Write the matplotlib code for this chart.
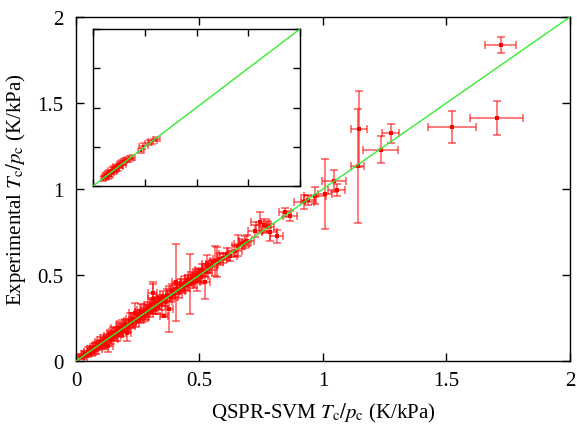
import matplotlib

matplotlib.use("Agg")
import matplotlib.pyplot as plt

plt.rcParams["font.family"] = ["Liberation Serif", "DejaVu Serif"]
plt.rcParams["mathtext.fontset"] = "stix"

# predicted (QSPR-SVM) vs experimental Tc/pc, with uncertainties
pred = [
    0.020, 0.028, 0.035, 0.042, 0.050, 0.055, 0.062, 0.068, 0.075, 0.080,
    0.088, 0.092, 0.100, 0.105, 0.112, 0.118, 0.125, 0.130, 0.138, 0.142,
    0.150, 0.155, 0.162, 0.168, 0.175, 0.180, 0.188, 0.192, 0.200, 0.205,
    0.212, 0.218, 0.225, 0.232, 0.238, 0.245, 0.252, 0.258, 0.265, 0.270,
    0.278, 0.285, 0.292, 0.298,
    0.305, 0.310, 0.313, 0.318, 0.325, 0.332, 0.340, 0.345, 0.352, 0.356,
    0.362, 0.370, 0.378, 0.383, 0.390, 0.398, 0.405, 0.410, 0.418, 0.425,
    0.432, 0.440, 0.448, 0.455, 0.462, 0.470, 0.478, 0.485, 0.491, 0.498,
    0.505, 0.512, 0.522, 0.525, 0.529, 0.540, 0.550, 0.563, 0.570, 0.583,
    0.595,
    0.610, 0.625, 0.644, 0.657, 0.671, 0.684, 0.691, 0.725, 0.745, 0.760,
    0.772, 0.785, 0.812, 0.846, 0.866, 0.923, 0.940,
    0.968, 1.008, 1.046, 1.056, 1.140, 1.146, 1.234, 1.274, 1.522, 1.703,
    1.719,
]
expt = [
    0.022, 0.025, 0.040, 0.038, 0.055, 0.048, 0.068, 0.060, 0.082, 0.072,
    0.095, 0.085, 0.108, 0.098, 0.120, 0.105, 0.135, 0.090, 0.145, 0.130,
    0.165, 0.148, 0.170, 0.155, 0.190, 0.172, 0.200, 0.180, 0.215, 0.160,
    0.205, 0.235, 0.220, 0.245, 0.280, 0.238, 0.262, 0.250, 0.285, 0.262,
    0.295, 0.278, 0.310, 0.290,
    0.325, 0.395, 0.360, 0.305, 0.340, 0.320, 0.355, 0.335, 0.372, 0.264,
    0.350, 0.385, 0.302, 0.375, 0.405, 0.392, 0.457, 0.420, 0.405, 0.440,
    0.428, 0.452, 0.440, 0.470, 0.449, 0.480, 0.465, 0.500, 0.467, 0.510,
    0.495, 0.530, 0.462, 0.520, 0.564, 0.545, 0.560, 0.583, 0.574, 0.593,
    0.600,
    0.622, 0.612, 0.641, 0.671, 0.680, 0.690, 0.700, 0.757, 0.806, 0.790,
    0.777, 0.748, 0.724, 0.864, 0.845, 0.926, 0.935,
    0.961, 0.971, 1.048, 0.996, 1.135, 1.349, 1.229, 1.324, 1.359, 1.413,
    1.839,
]
pred_err = [
    0.012, 0.015, 0.014, 0.018, 0.016, 0.022, 0.018, 0.020, 0.018, 0.024,
    0.020, 0.028, 0.024, 0.020, 0.026, 0.022, 0.028, 0.018, 0.024, 0.028,
    0.024, 0.026, 0.028, 0.022, 0.032, 0.024, 0.028, 0.026, 0.032, 0.018,
    0.028, 0.024, 0.032, 0.028, 0.022, 0.032, 0.028, 0.032, 0.028, 0.024,
    0.032, 0.028, 0.032, 0.028,
    0.030, 0.020, 0.020, 0.030, 0.025, 0.030, 0.030, 0.025, 0.030, 0.015,
    0.025, 0.030, 0.015, 0.030, 0.025, 0.030, 0.015, 0.030, 0.025, 0.030,
    0.025, 0.030, 0.025, 0.030, 0.020, 0.030, 0.025, 0.030, 0.020, 0.025,
    0.030, 0.030, 0.020, 0.025, 0.020, 0.030, 0.025, 0.020, 0.025, 0.030,
    0.025,
    0.030, 0.025, 0.030, 0.025, 0.030, 0.025, 0.030, 0.030, 0.035, 0.030,
    0.030, 0.030, 0.027, 0.025, 0.028, 0.040, 0.030,
    0.044, 0.027, 0.049, 0.034, 0.028, 0.034, 0.071, 0.033, 0.096, 0.109,
    0.063,
]
expt_err = [
    0.012, 0.015, 0.018, 0.016, 0.024, 0.018, 0.022, 0.026, 0.024, 0.030,
    0.024, 0.022, 0.034, 0.024, 0.030, 0.034, 0.024, 0.038, 0.030, 0.034,
    0.034, 0.030, 0.024, 0.040, 0.034, 0.030, 0.040, 0.034, 0.030, 0.045,
    0.034, 0.045, 0.030, 0.034, 0.055, 0.040, 0.034, 0.030, 0.045, 0.034,
    0.034, 0.040, 0.034, 0.034,
    0.040, 0.065, 0.087, 0.030, 0.035, 0.045, 0.030, 0.040, 0.035, 0.008,
    0.030, 0.035, 0.136, 0.030, 0.040, 0.035, 0.223, 0.030, 0.040, 0.035,
    0.030, 0.040, 0.035, 0.030, 0.176, 0.035, 0.040, 0.035, 0.058, 0.030,
    0.040, 0.035, 0.100, 0.030, 0.050, 0.035, 0.030, 0.087, 0.087, 0.035,
    0.030,
    0.035, 0.030, 0.035, 0.060, 0.030, 0.035, 0.030, 0.035, 0.063, 0.035,
    0.035, 0.049, 0.039, 0.025, 0.030, 0.040, 0.030,
    0.051, 0.203, 0.065, 0.034, 0.330, 0.223, 0.078, 0.056, 0.092, 0.098,
    0.047,
]

# inset: full data range
inset_pred = [
    0.40, 0.45, 0.50, 0.55, 0.60, 0.65, 0.70, 0.75, 0.80, 0.85,
    0.90, 0.95, 1.00, 1.05, 1.10, 1.15, 1.20, 1.30, 1.40, 1.50,
    1.85, 1.95, 2.15, 2.30, 2.45,
]
inset_expt = [
    0.38, 0.50, 0.45, 0.62, 0.52, 0.72, 0.64, 0.82, 0.74, 0.92,
    0.85, 1.02, 0.95, 1.12, 1.05, 1.20, 1.25, 1.32, 1.38, 1.45,
    1.80, 2.05, 2.20, 2.28, 2.40,
]
inset_pred_err = [
    0.10, 0.12, 0.10, 0.14, 0.12, 0.14, 0.12, 0.16, 0.12, 0.14,
    0.12, 0.16, 0.14, 0.12, 0.16, 0.14, 0.12, 0.14, 0.16, 0.14,
    0.12, 0.16, 0.14, 0.18, 0.14,
]
inset_expt_err = [
    0.12, 0.14, 0.12, 0.16, 0.14, 0.12, 0.16, 0.14, 0.12, 0.16,
    0.14, 0.12, 0.16, 0.14, 0.12, 0.14, 0.16, 0.12, 0.14, 0.12,
    0.14, 0.16, 0.12, 0.14, 0.12,
]
tick_labels = ["0", "0.5", "1", "1.5", "2"]

RED = "#ff0000"
GREEN = "#33ee33"


def style_axes(ax, ticks, labels=True):
    ax.set_xticks(ticks)
    ax.set_yticks(ticks)
    ax.tick_params(direction="in", top=True, right=True, length=6, width=1,
                   labelsize=15, pad=9)
    if not labels:
        ax.set_xticklabels([])
        ax.set_yticklabels([])
    for spine in ax.spines.values():
        spine.set_linewidth(1)


fig = plt.figure(figsize=(5.77, 4.27), dpi=100)
ax = fig.add_axes([0.1317, 0.1522, 0.856, 0.8056])

ax.errorbar(pred, expt, xerr=pred_err, yerr=expt_err, fmt="none",
            ecolor=RED, alpha=0.6, elinewidth=1.2, capsize=3.2, capthick=1.2)
ax.plot(pred, expt, "s", color=RED, markersize=3, markeredgewidth=0)
ax.plot([0, 2], [0, 2], color=GREEN, linewidth=1, zorder=5)
ax.set_xlim(0, 2)
ax.set_ylim(0, 2)
style_axes(ax, [0, 0.5, 1, 1.5, 2])
ax.set_xticklabels(tick_labels)
ax.set_yticklabels(tick_labels)
ax.tick_params(axis="x", pad=7)
ax.set_xlabel(r"QSPR-SVM $T_\mathrm{c}/p_\mathrm{c}$ (K/kPa)", fontsize=15,
              labelpad=8)
ax.set_ylabel(r"Experimental $T_\mathrm{c}/p_\mathrm{c}$ (K/kPa)",
              fontsize=15, labelpad=7)

inset = fig.add_axes([0.1612, 0.562, 0.3588, 0.3677])
inset.errorbar(inset_pred, inset_expt, xerr=inset_pred_err,
               yerr=inset_expt_err, fmt="none", ecolor=RED, alpha=0.6,
               elinewidth=1.1, capsize=2.2, capthick=1.1)
inset.plot(inset_pred, inset_expt, "s", color=RED, markersize=2,
           markeredgewidth=0)
inset.plot([0, 8], [0, 8], color=GREEN, linewidth=1, zorder=5)
inset.set_xlim(0, 8)
inset.set_ylim(0, 8)
style_axes(inset, [0, 2, 4, 6, 8], labels=False)
inset.tick_params(length=5)

fig.savefig("out.png", dpi=100)
